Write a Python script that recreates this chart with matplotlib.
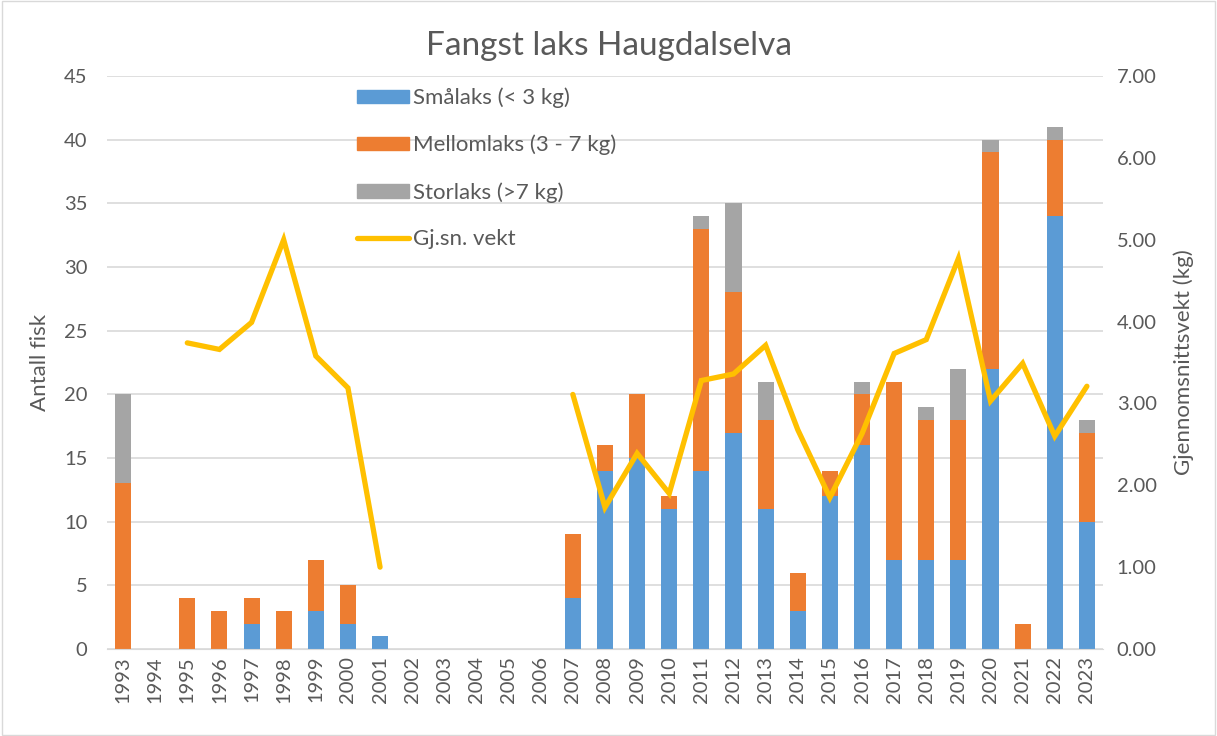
import numpy as np
import matplotlib.pyplot as plt
from matplotlib.patches import Patch
from matplotlib.lines import Line2D

plt.rcParams['font.family'] = ['Lato', 'DejaVu Sans']

years = [str(y) for y in range(1993, 2024)]

# Antall fisk per størrelsesklasse
smalaks = [0, 0, 0, 0, 2, 0, 3, 2, 1, 0, 0, 0, 0, 0,
           4, 14, 15, 11, 14, 17, 11, 3, 12, 16, 7, 7, 7, 22, 0, 34, 10]
mellomlaks = [13, 0, 4, 3, 2, 3, 4, 3, 0, 0, 0, 0, 0, 0,
              5, 2, 5, 1, 19, 11, 7, 3, 2, 4, 14, 11, 11, 17, 2, 6, 7]
storlaks = [7, 0, 0, 0, 0, 0, 0, 0, 0, 0, 0, 0, 0, 0,
            0, 0, 0, 0, 1, 7, 3, 0, 0, 1, 0, 1, 4, 1, 0, 1, 1]

# Gjennomsnittsvekt (kg), tomme år uten verdi
snittvekt = [np.nan, np.nan, 3.74, 3.66, 3.99, 5.00, 3.58, 3.19, 1.00,
             np.nan, np.nan, np.nan, np.nan, np.nan,
             3.11, 1.73, 2.39, 1.90, 3.28, 3.36, 3.71, 2.68, 1.85, 2.63,
             3.61, 3.78, 4.77, 3.03, 3.49, 2.60, 3.21]

c_sma = "#5B9BD5"
c_mel = "#ED7D31"
c_sto = "#A5A5A5"
c_vekt = "#FFC000"
tekst = "#595959"

fig = plt.figure(figsize=(12.17, 7.36), dpi=100)
ax = fig.add_axes([0.0879, 0.1182, 0.9063 - 0.0879, 0.8967 - 0.1182])

x = np.arange(len(years))
sma = np.array(smalaks)
mel = np.array(mellomlaks)
sto = np.array(storlaks)

ax.bar(x, sma, width=0.5, color=c_sma, zorder=2)
ax.bar(x, mel, width=0.5, bottom=sma, color=c_mel, zorder=2)
ax.bar(x, sto, width=0.5, bottom=sma + mel, color=c_sto, zorder=2)

ax.set_xlim(-0.5, len(years) - 0.5)
ax.set_ylim(0, 45)
ax.set_yticks(range(0, 46, 5))
ax.yaxis.grid(True, color="#D9D9D9", linewidth=1.2, zorder=0)
ax.set_axisbelow(True)
ax.set_xticks(x)
ax.set_xticklabels(years, rotation=90)
ax.tick_params(axis="both", length=0, labelsize=14.5, colors=tekst)
ax.tick_params(axis="y", pad=14)
ax.tick_params(axis="x", pad=5)
for s in ["top", "right", "left"]:
    ax.spines[s].set_visible(False)
ax.spines["bottom"].set_color("#D9D9D9")
ax.set_ylabel("Antall fisk", fontsize=16, color=tekst, labelpad=10)

ax2 = ax.twinx()
ax2.plot(x, snittvekt, color=c_vekt, linewidth=3.8, solid_capstyle="round",
         solid_joinstyle="miter", zorder=3)
ax2.set_ylim(0, 7)
ax2.set_yticks(np.arange(0, 7.01, 1))
ax2.set_yticklabels([f"{v:.2f}" for v in np.arange(0, 7.01, 1)])
ax2.tick_params(axis="y", length=0, labelsize=14.5, colors=tekst, pad=10)
for s in ["top", "right", "left", "bottom"]:
    ax2.spines[s].set_visible(False)
ax2.set_ylabel("Gjennomsnittsvekt (kg)", fontsize=16, color=tekst, labelpad=12)

handles = [
    Patch(color=c_sma, label="Smålaks (< 3 kg)"),
    Patch(color=c_mel, label="Mellomlaks (3 - 7 kg)"),
    Patch(color=c_sto, label="Storlaks (>7 kg)"),
    Line2D([], [], color=c_vekt, linewidth=3.8, solid_capstyle="round",
           label="Gj.sn. vekt"),
]
leg = ax2.legend(handles=handles, loc="upper left", bbox_to_anchor=(0.237, 1.005),
                 frameon=False, fontsize=16, labelspacing=1.2,
                 handlelength=2.3, handleheight=0.55, handletextpad=0.2,
                 borderpad=0.15, labelcolor=tekst)

fig.suptitle("Fangst laks Haugdalselva", fontsize=24, color=tekst, y=0.958)

# ramme rundt hele figuren
fig.patches.append(plt.Rectangle((0.002, 0.002), 0.996, 0.996, transform=fig.transFigure,
                                 fill=False, edgecolor="#D9D9D9", linewidth=1))

fig.savefig("out.png", dpi=100)
